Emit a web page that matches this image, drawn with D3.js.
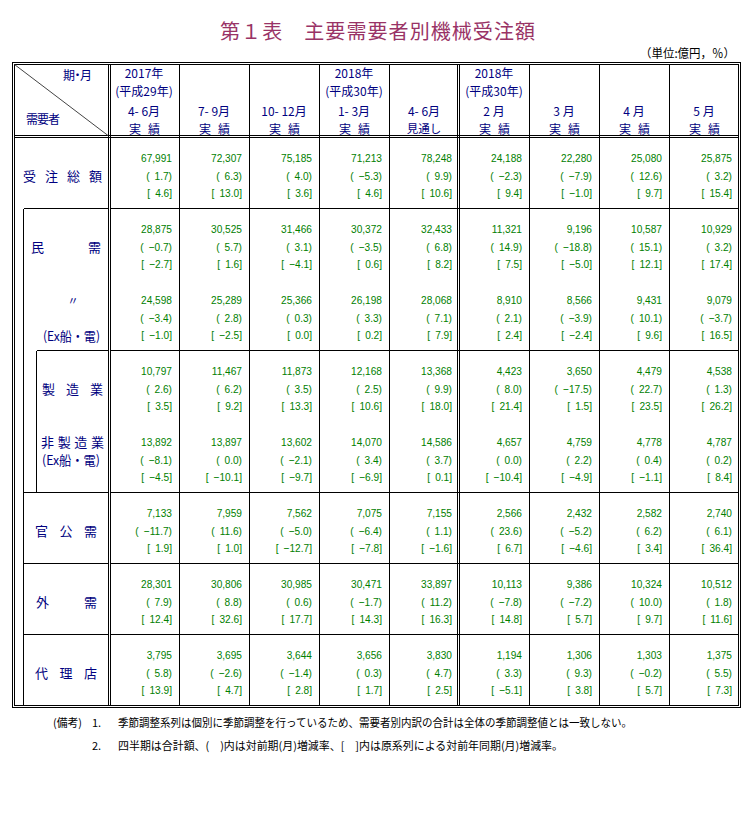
<!DOCTYPE html>
<html><head><meta charset="utf-8">
<script src="https://cdn.jsdelivr.net/npm/d3@7"></script>
<style>body{margin:0;background:#fff}</style>
</head><body><svg id="c" width="753" height="820"></svg>
<script>
// ---- header labels ----
const headYear   = ["2017年","","","2018年","","2018年","","",""];
const headEra    = ["(平成29年)","","","(平成30年)","","(平成30年)","","",""];
const headPeriod = ["4- 6月","7- 9月","10- 12月","1- 3月","4- 6月","2 月","3 月","4 月","5 月"];
const headKind   = ["実績","実績","実績","実績","見通し","実績","実績","実績","実績"];

// ---- row categories ----
const rowNames = ["受注総額","民需","〃(Ex船・電)","製造業","非製造業(Ex船・電)","官公需","外需","代理店"];

// ---- values (億円), ( ) 対前期(月)増減率, [ ] 対前年同期(月)増減率 ----
const totalAmt = [67991,72307,75185,71213,78248,24188,22280,25080,25875];
const totalMoM = [1.7,6.3,4.0,-5.3,9.9,-2.3,-7.9,12.6,3.2];
const totalYoY = [4.6,13.0,3.6,4.6,10.6,9.4,-1.0,9.7,15.4];

const privAmt = [28875,30525,31466,30372,32433,11321,9196,10587,10929];
const privMoM = [-0.7,5.7,3.1,-3.5,6.8,14.9,-18.8,15.1,3.2];
const privYoY = [-2.7,1.6,-4.1,0.6,8.2,7.5,-5.0,12.1,17.4];

const privExAmt = [24598,25289,25366,26198,28068,8910,8566,9431,9079];
const privExMoM = [-3.4,2.8,0.3,3.3,7.1,2.1,-3.9,10.1,-3.7];
const privExYoY = [-1.0,-2.5,0.0,0.2,7.9,2.4,-2.4,9.6,16.5];

const mfgAmt = [10797,11467,11873,12168,13368,4423,3650,4479,4538];
const mfgMoM = [2.6,6.2,3.5,2.5,9.9,8.0,-17.5,22.7,1.3];
const mfgYoY = [3.5,9.2,13.3,10.6,18.0,21.4,1.5,23.5,26.2];

const nonMfgAmt = [13892,13897,13602,14070,14586,4657,4759,4778,4787];
const nonMfgMoM = [-8.1,0.0,-2.1,3.4,3.7,0.0,2.2,0.4,0.2];
const nonMfgYoY = [-4.5,-10.1,-9.7,-6.9,0.1,-10.4,-4.9,-1.1,8.4];

const govAmt = [7133,7959,7562,7075,7155,2566,2432,2582,2740];
const govMoM = [-11.7,11.6,-5.0,-6.4,1.1,23.6,-5.2,6.2,6.1];
const govYoY = [1.9,1.0,-12.7,-7.8,-1.6,6.7,-4.6,3.4,36.4];

const extAmt = [28301,30806,30985,30471,33897,10113,9386,10324,10512];
const extMoM = [7.9,8.8,0.6,-1.7,11.2,-7.8,-7.2,10.0,1.8];
const extYoY = [12.4,32.6,17.7,14.3,16.3,14.8,5.7,9.7,11.6];

const agentAmt = [3795,3695,3644,3656,3830,1194,1306,1303,1375];
const agentMoM = [5.8,-2.6,-1.4,0.3,4.7,3.3,9.3,-0.2,5.5];
const agentYoY = [13.9,4.7,2.8,1.7,2.5,-5.1,3.8,5.7,7.3];

const titleText = "第１表　主要需要者別機械受注額";
const unitText = "（単位:億円，％）";
const note1 = "季節調整系列は個別に季節調整を行っているため、需要者別内訳の合計は全体の季節調整値とは一致しない。";
const note2 = "四半期は合計額、(　)内は対前期(月)増減率、[　]内は原系列による対前年同期(月)増減率。";

// ---- build table ----
const tableRows = [
  [totalAmt,totalMoM,totalYoY],[privAmt,privMoM,privYoY],[privExAmt,privExMoM,privExYoY],
  [mfgAmt,mfgMoM,mfgYoY],[nonMfgAmt,nonMfgMoM,nonMfgYoY],[govAmt,govMoM,govYoY],
  [extAmt,extMoM,extYoY],[agentAmt,agentMoM,agentYoY]
];

const svg = d3.select("#c");
const x = d3.scaleBand().domain(d3.range(9)).range([109,739]);
const y = d3.scaleBand().domain(d3.range(8)).range([137,705]);
const lineY = (r,k) => y(r) + 20.5 + k*17.8;

const NAVY = "#000080", GREEN = "#008000";
const CJK = "'Noto Sans CJK JP', sans-serif";

// title
svg.append("text").attr("x",220).attr("y",30).attr("dominant-baseline","central")
  .attr("font-family",CJK).attr("font-size",20).attr("fill","#993366")
  .attr("textLength",315).attr("lengthAdjust","spacing").text(titleText);
svg.append("text").attr("x",640).attr("y",52).attr("dominant-baseline","central")
  .attr("font-family",CJK).attr("font-size",12).attr("fill","#000")
  .attr("textLength",95).attr("lengthAdjust","spacingAndGlyphs").text(unitText);

// lines
const g = svg.append("g").attr("stroke","#000").attr("stroke-width",1).attr("fill","none")
  .attr("shape-rendering","crispEdges");
const L = (x1,y1,x2,y2)=>g.append("line").attr("x1",x1).attr("y1",y1).attr("x2",x2).attr("y2",y2);
g.append("rect").attr("x",12.5).attr("y",62.5).attr("width",728).attr("height",645);
g.append("rect").attr("x",14.5).attr("y",64.5).attr("width",724).attr("height",641);
L(14.5,135.5,738.5,135.5); L(14.5,137.5,738.5,137.5);
L(x(0)-0.5,64.5,x(0)-0.5,705.5); L(x(0)+1.5,64.5,x(0)+1.5,705.5);
for (let i=1;i<9;i++){
  if (i===5){ L(x(i)-1.5,64.5,x(i)-1.5,705.5); L(x(i)+0.5,64.5,x(i)+0.5,705.5); }
  else L(x(i)+0.5,64.5,x(i)+0.5,705.5);
}
[1,3,5,6,7].forEach(r=>L(110.5,y(r)+0.5,738.5,y(r)+0.5));
[1,5,6,7].forEach(r=>L(23.5,y(r)+0.5,108.5,y(r)+0.5));
L(36.5,y(3)+0.5,108.5,y(3)+0.5);
L(23.5,y(1)+0.5,23.5,705.5);
L(36.5,y(3)+0.5,36.5,y(5)+0.5);
svg.append("line").attr("x1",14.5).attr("y1",64.5).attr("x2",108).attr("y2",135.5)
  .attr("stroke","#444").attr("stroke-width",1);

// header corner
const hdr = (t,xx,yy,opt={})=>{
  const e = svg.append("text").attr("x",xx).attr("y",yy).attr("dominant-baseline","central")
    .attr("font-family",CJK).attr("font-size",opt.size||12).attr("fill",NAVY)
    .attr("text-anchor",opt.anchor||"middle").text(t);
  if (opt.len) e.attr("textLength",opt.len).attr("lengthAdjust",opt.adj||"spacing");
  return e;
};
hdr("期・月",63,74,{anchor:"start",len:29,size:12});
hdr("需要者",26,118,{anchor:"start",len:34,size:12});

// column headers
d3.range(9).forEach(i=>{
  const cx = x(i)+x.bandwidth()/2;
  if (headYear[i]) hdr(headYear[i],cx,72);
  if (headEra[i]) hdr(headEra[i],cx,90);
  hdr(headPeriod[i],cx,110);
  if (headKind[i]==="見通し") hdr(headKind[i],cx,128,{size:11.5});
  else hdr(headKind[i],cx-15,128,{anchor:"start",len:31});
});

// row labels
const labelSpecs = [
  {t:"受注総額",r:0,k:1,x0:23,x1:102},
  {t:"民需",r:1,k:1,x0:31,x1:101},
  {t:"〃",r:2,k:0,x0:73,mid:true},
  {t:"(Ex船・電)",r:2,k:2,x0:43,x1:100},
  {t:"製造業",r:3,k:1,x0:42,x1:103},
  {t:"非製造業",r:4,k:0,x0:41,x1:104},
  {t:"(Ex船・電)",r:4,k:1,x0:42,x1:100},
  {t:"官公需",r:5,k:1,x0:35,x1:97},
  {t:"外需",r:6,k:1,x0:36,x1:97},
  {t:"代理店",r:7,k:1,x0:35,x1:97}
];
labelSpecs.forEach(s=>{
  if (s.mid) hdr(s.t,s.x0,lineY(s.r,s.k),{size:11});
  else hdr(s.t,s.x0,lineY(s.r,s.k),{anchor:"start",size:13,len:s.x1-s.x0,
     adj: s.t.startsWith("(")?"spacingAndGlyphs":"spacing"});
});

// data cells
const fAmt = d3.format(",");
const fPct = v => d3.format(".1f")(v).replace("-","−");
const fmts = [v=>fAmt(v), v=>"(\u2002"+fPct(v)+")", v=>"[\u2002"+fPct(v)+"]"];
tableRows.forEach((series,r)=>{
  series.forEach((vals,k)=>{
    vals.forEach((v,i)=>{
      svg.append("text")
        .attr("transform",`translate(${x(i)+x.bandwidth()-7},${lineY(r,k)}) scale(0.88,1)`)
        .attr("text-anchor","end").attr("dominant-baseline","central")
        .attr("font-family","'Liberation Sans', Arial, sans-serif").attr("font-size",11.5)
        .attr("fill",GREEN).text(fmts[k](v));
    });
  });
});

// notes
const note = (t,xx,yy,len)=>{
  const e = svg.append("text").attr("x",xx).attr("y",yy).attr("dominant-baseline","central")
    .attr("font-family",CJK).attr("font-size",11).attr("fill","#000").text(t);
  if (len) e.attr("textLength",len).attr("lengthAdjust","spacingAndGlyphs");
};
note("(備考)",53,722,29);
note("1.",92,722);
note(note1,118,722,514);
note("2.",92,745);
note(note2,118,745,445);
</script></body></html>
